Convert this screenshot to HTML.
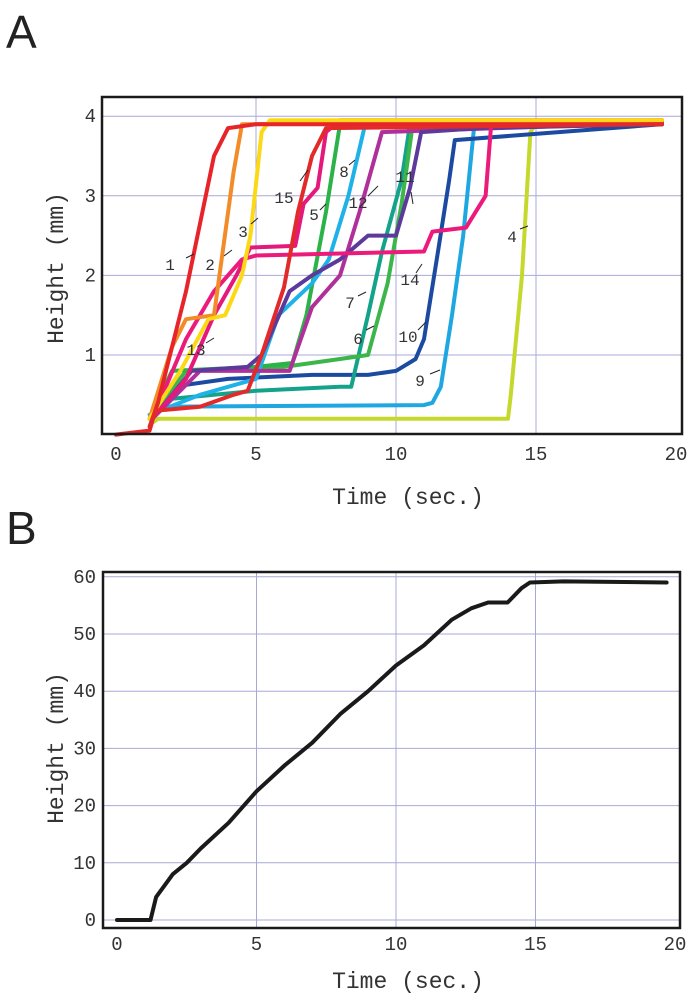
<!DOCTYPE html>
<html><head><meta charset="utf-8"><style>
html,body{margin:0;padding:0;background:#fff;}
svg{display:block;}
text{font-family:"Liberation Mono",monospace;fill:#333;}
</style></head><body>
<svg id="fig" width="695" height="1000" viewBox="0 0 695 1000">
<text x="6" y="48" style="font-family:'Liberation Sans',sans-serif;font-size:46px;fill:#222">A</text>
<text x="6" y="544" style="font-family:'Liberation Sans',sans-serif;font-size:46px;fill:#222">B</text>
<g id="pa"></g>
<g id="pb"></g>
</svg>
<script>
const xTicks = [0,5,10,15,20];
const yTicksA = [1,2,3,4];
const yTicksB = [0,10,20,30,40,50,60];
const seriesColors = ["#e8242b","#f28c28","#fcd914","#c5d92d","#2bb34a","#3cb64a","#12a38a","#1eb2e8","#1ea7e0","#1c4aa0","#5b3a9b","#b0309a","#e5197c","#ec1a7a","#e32a2a"];
const s1 = [[1.2,0.1],[1.5,0.4],[2.5,1.8],[3.5,3.5],[4,3.85],[5,3.9],[19.5,3.9]];
const s2 = [[1.2,0.2],[2,1.1],[2.5,1.45],[3.5,1.5],[4.2,3.3],[4.5,3.9],[19.5,3.95]];
const s3 = [[1.2,0.2],[2.3,0.8],[3.3,1.45],[3.9,1.5],[4.5,2.0],[4.8,2.5],[5.2,3.8],[5.5,3.95],[19.5,3.95]];
const s4 = [[1.3,0.15],[1.5,0.2],[14,0.2],[14.1,0.5],[14.5,2.0],[14.8,3.8],[15,3.9],[19.5,3.92]];
const s5 = [[1.2,0.2],[2,0.8],[5,0.85],[6.3,0.9],[6.8,1.5],[7.5,2.8],[8,3.9],[19.5,3.93]];
const s6 = [[1.2,0.2],[2.5,0.8],[6,0.85],[8,0.95],[9,1.0],[9.7,1.9],[10.2,2.9],[10.6,3.9],[19.5,3.93]];
const s7 = [[1.2,0.2],[2,0.45],[5,0.55],[8,0.6],[8.4,0.6],[9,1.5],[9.5,2.3],[10.2,3.2],[10.5,3.9],[19.5,3.93]];
const s8 = [[1.2,0.25],[3,0.5],[5,0.7],[5.8,1.5],[7,1.9],[7.6,2.2],[8.3,3.0],[8.9,3.9],[19.5,3.92]];
const s9 = [[1.3,0.3],[1.5,0.35],[11,0.37],[11.3,0.4],[11.6,0.6],[12,1.5],[12.4,2.5],[12.8,3.9],[19.5,3.9]];
const s10 = [[1.2,0.2],[2,0.6],[4,0.7],[7,0.75],[9,0.75],[10,0.8],[10.7,0.95],[11,1.2],[11.5,2.3],[11.9,3.2],[12.1,3.7],[19.5,3.9]];
const s11 = [[1.3,0.2],[2.7,0.8],[4.7,0.85],[5.2,1.0],[6.2,1.8],[7,2.0],[8,2.2],[9,2.5],[10,2.5],[10.5,3.1],[10.9,3.8],[13,3.85],[19.5,3.9]];
const s12 = [[1.3,0.2],[3,0.8],[6.2,0.8],[7,1.6],[8,2.0],[8.7,2.8],[9.5,3.8],[19.5,3.92]];
const s13 = [[1.3,0.2],[2.5,0.7],[3.5,1.5],[4.3,2.0],[4.8,2.35],[6.4,2.37],[6.7,2.9],[7.2,3.1],[7.5,3.8],[8,3.95],[19.5,3.95]];
const s14 = [[1.3,0.2],[2.5,1.2],[3.5,1.8],[4.5,2.2],[5,2.25],[11,2.3],[11.3,2.55],[12.5,2.6],[13.2,3.0],[13.4,3.9],[19.5,3.95]];
const s15 = [[0,0],[1.2,0.05],[1.4,0.3],[3,0.35],[4.2,0.5],[4.7,0.55],[5.2,1.0],[6,1.85],[6.5,2.8],[7,3.5],[7.5,3.85],[19.5,3.9]];
const seriesA = [s1,s2,s3,s4,s5,s6,s7,s8,s9,s10,s11,s12,s13,s14,s15];
const drawOrder = [3,8,9,6,5,4,7,11,10,12,13,1,2,0,14];
const labelText = ["1","2","3","4","5","6","7","8","9","10","11","12","13","14","15"];
const totalTime = [0,1.2,1.4,2,2.5,3,4,5,6,7,8,9,10,11,12,12.7,13.3,14,14.5,14.8,16,19.7];
const totalHeight = [0,0,4,8,10,12.5,17,22.5,27,31,36,40,44.5,48,52.5,54.5,55.5,55.5,58,59,59.2,59];

const NS="http://www.w3.org/2000/svg";
function mk(tag,parent,attrs){const e=document.createElementNS(NS,tag);for(const k in attrs)e.setAttribute(k,attrs[k]);parent.appendChild(e);return e;}
const xA=t=>116+t*28;
const yA=v=>434.6-v*79.6;
const xB=t=>117+t*27.9;
const yB=v=>920-v*5.72;

function axes(g,L,T,R,B,xs,ys,yt,pfx,xLabY,yLabX){
  xTicks.forEach(t=>{if(t>0&&t<20){const l=mk('line',g,{x1:xs(t),x2:xs(t),y1:T,y2:B,stroke:'#a8a8d8','stroke-width':1});
    
    }
    const tx=mk('text',g,{x:xs(t),y:xLabY,'text-anchor':'middle','font-size':19});tx.textContent=t;
    
    });
  yt.forEach(v=>{const y=ys(v);if(y>T+2&&y<B-2){const l=mk('line',g,{x1:L,x2:R,y1:y,y2:y,stroke:'#a8a8d8','stroke-width':1});
    
    }
    const tx=mk('text',g,{x:yLabX,y:y+6,'text-anchor':'end','font-size':19});tx.textContent=v;
    
    });
}
function frame(g,L,T,R,B,pfx){const r=mk('rect',g,{x:L,y:T,width:R-L,height:B-T,fill:'none',stroke:'#1a1a1a','stroke-width':2.5});
  
  }
function titles(g,pfx,cx,xy,cy){
  const a=mk('text',g,{x:cx,y:xy,'text-anchor':'middle','font-size':23});a.textContent='Time (sec.)';
  
  
  const b=mk('text',g,{x:0,y:0,'text-anchor':'middle','font-size':23,transform:`translate(63,${cy}) rotate(-90)`});b.textContent='Height (mm)';
  
  
}
function poly(g,pts,xs,ys,col,w){return mk('polyline',g,{points:pts.map(p=>xs(p[0]).toFixed(1)+','+ys(p[1]).toFixed(1)).join(' '),fill:'none',stroke:col,'stroke-width':w,'stroke-linejoin':'round','stroke-linecap':'round'});}

// Panel A
const pa=document.getElementById('pa');
axes(pa,102,97,682,434,xA,yA,yTicksA,'panel-a',460,96);
drawOrder.forEach(i=>{const p=poly(pa,seriesA[i],xA,yA,seriesColors[i],4);
  
  });
frame(pa,102,97,682,434,'panel-a');
titles(pa,'panel-a',408,504,268);
const labelPos=[[170,270,186,258],[210,270,224,256],[243,237,251,224],[512,242,520,229],[314,220,320,210],[358,344,366,330],[350,308,358,296],[344,177,349,165],[420,386,430,374],[408,342,418,330],[405,182,411,192],[358,208,368,196],[196,355,206,343],[410,285,416,273],[284,203,300,181]];
const labelLeader=[[194,254],[232,250],[258,218],[528,226],[326,204],[374,326],[366,292],[355,160],[440,370],[426,322],[413,204],[378,186],[214,338],[422,264],[308,170]];
labelPos.forEach((p,i)=>{const t=mk('text',pa,{x:p[0],y:p[1],'text-anchor':'middle','font-size':16});t.textContent=labelText[i];
  
  
  const l=mk('line',pa,{x1:p[2],y1:p[3],x2:labelLeader[i][0],y2:labelLeader[i][1],stroke:'#222','stroke-width':1});
  
  });

// Panel B
const pb=document.getElementById('pb');
axes(pb,103,572,680,928,xB,yB,yTicksB,'panel-b',950,96);
const lb=poly(pb,totalTime.map((t,i)=>[t,totalHeight[i]]),xB,yB,'#1a1a1a',4);


frame(pb,103,572,680,928,'panel-b');
titles(pb,'panel-b',408,988,748);
</script>
</body></html>
